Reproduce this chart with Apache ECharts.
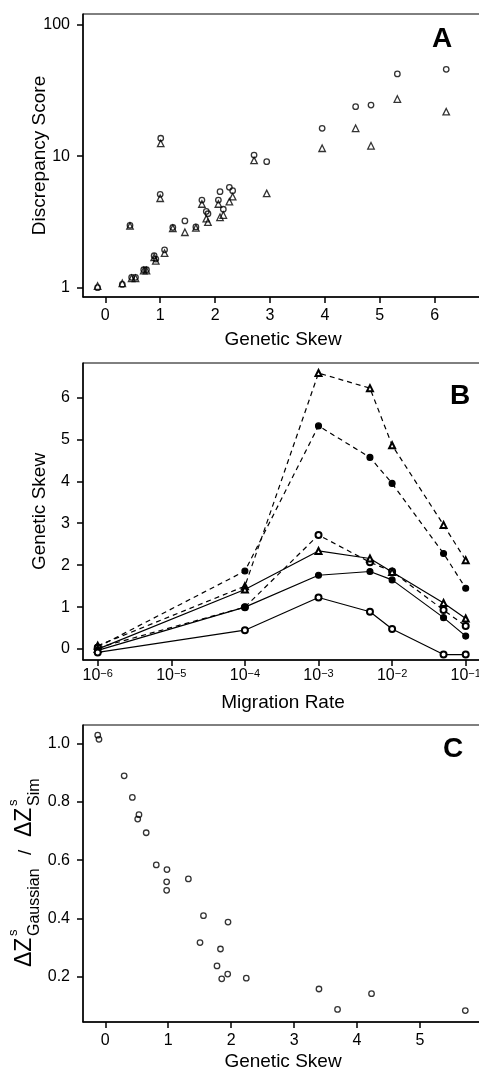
<!DOCTYPE html>
<html>
<head>
<meta charset="utf-8">
<script src="https://cdn.jsdelivr.net/npm/echarts@6/dist/echarts.min.js"></script>
<style>
  html, body { margin: 0; padding: 0; background: #fff; }
  #chart { width: 479px; height: 1070px; }
</style>
</head>
<body>
<div id="chart"></div>
<script>
// panel A: discrepancy score vs genetic skew
const skewA = [-0.14, 0.31, 0.45, 0.48, 0.55, 0.70, 0.75, 0.89, 0.92, 1.00, 1.01, 1.08, 1.23, 1.45, 1.65,
  1.76, 1.84, 1.87, 2.06, 2.09, 2.15, 2.26, 2.32, 2.71, 2.94, 3.95, 4.56, 4.84, 5.32, 6.21];
const circA = [1.0, 1.06, 2.98, 1.2, 1.2, 1.37, 1.37, 1.75, 1.65, 5.13, 13.7, 1.94, 2.87, 3.22, 2.9,
  4.64, 3.8, 3.65, 4.64, 5.37, 3.95, 5.8, 5.47, 10.2, 9.08, 16.3, 23.8, 24.5, 42.2, 45.8];
const triA = [1.03, 1.08, 2.95, 1.18, 1.18, 1.35, 1.35, 1.7, 1.6, 4.79, 12.5, 1.83, 2.83, 2.64, 2.85,
  4.33, 3.35, 3.15, 4.33, 3.43, 3.57, 4.51, 4.92, 9.3, 5.22, 11.5, 16.3, 12.0, 27.2, 21.8];

// panel B: genetic skew vs migration rate
const rates = [1e-6, 1e-4, 1e-3, 5e-3, 1e-2, 5e-2, 1e-1];
const dashTri = [0.08, 1.5, 6.58, 6.22, 4.86, 2.96, 2.12];
const dashDot = [0.05, 1.86, 5.32, 4.57, 3.95, 2.28, 1.45];
const dashOpen = [0.03, 1.0, 2.72, 2.07, 1.85, 0.93, 0.55];
const solidTri = [0.0, 1.42, 2.34, 2.16, 1.84, 1.1, 0.73];
const solidDot = [-0.03, 1.0, 1.76, 1.85, 1.65, 0.75, 0.31];
const solidOpen = [-0.08, 0.45, 1.23, 0.89, 0.48, -0.13, -0.13];

// panel C: ratio vs genetic skew
const skewC = [-0.12, -0.10, 0.30, 0.43, 0.535, 0.515, 0.65, 0.81, 0.98, 0.975, 0.975, 1.32, 1.56, 1.505,
  1.95, 1.83, 1.775, 1.85, 1.945, 2.24, 3.395, 3.69, 4.23, 5.72];
const ratioC = [1.028, 1.014, 0.889, 0.815, 0.756, 0.741, 0.694, 0.584, 0.568, 0.526, 0.497, 0.536, 0.41, 0.318,
  0.388, 0.296, 0.238, 0.194, 0.21, 0.196, 0.159, 0.089, 0.143, 0.085];

const ticksA = [0, 1, 2, 3, 4, 5, 6];
const ticksAy = [1, 10, 100];
const ticksB = [1e-6, 1e-5, 1e-4, 1e-3, 1e-2, 1e-1];
const ticksBy = [0, 1, 2, 3, 4, 5, 6];
const ticksC = [0, 1, 2, 3, 4, 5];
const ticksCy = [0.2, 0.4, 0.6, 0.8, 1.0];

const chart = echarts.init(document.getElementById('chart'));

function xAx(idx, min, max, ticks, name, gap, extra) {
  return Object.assign({
    gridIndex: idx, type: 'value', min: min, max: max,
    name: name, nameLocation: 'middle', nameGap: gap, nameMoveOverlap: false,
    nameTextStyle: { fontSize: 19, color: '#000' },
    axisLine: { onZero: false, lineStyle: { color: '#000', width: 1.5 } },
    axisTick: { length: 6, customValues: ticks, lineStyle: { color: '#000', width: 1.5 } },
    axisLabel: { customValues: ticks, fontSize: 16, color: '#000', margin: 11 },
    splitLine: { show: false }
  }, extra || {});
}
function yAx(idx, min, max, ticks, name, gap, extra) {
  return Object.assign({
    gridIndex: idx, type: 'value', min: min, max: max,
    name: name, nameLocation: 'middle', nameGap: gap, nameMoveOverlap: false,
    nameTextStyle: { fontSize: 19, color: '#000' },
    axisLine: { onZero: false, lineStyle: { color: '#000', width: 1.5 } },
    axisTick: { length: 6, customValues: ticks, lineStyle: { color: '#000', width: 1.5 } },
    axisLabel: { customValues: ticks, fontSize: 16, color: '#000', margin: 13 },
    splitLine: { show: false }
  }, extra || {});
}

const openStyle = { color: 'rgba(0,0,0,0)', borderColor: '#000', borderWidth: 1.3 };

function lineSeries(vals, symbol, dashed) {
  return {
    type: 'line', xAxisIndex: 1, yAxisIndex: 1,
    data: rates.map((r, i) => [r, vals[i]]),
    symbol: symbol, symbolSize: 6,
    lineStyle: { color: '#000', width: 1.2, type: dashed ? [5, 4] : 'solid' },
    itemStyle: { color: '#000', borderColor: '#000', borderWidth: 1.1 },
    z: 3
  };
}

const gridBase = { left: 83, width: 400, show: true, borderColor: '#000', borderWidth: 1, outerBoundsMode: 'none', containLabel: false };

const option = {
  animation: false,
  backgroundColor: '#fff',
  textStyle: { fontFamily: 'Liberation Sans' },
  grid: [
    Object.assign({ top: 14, height: 283 }, gridBase),
    Object.assign({ top: 363, height: 297 }, gridBase),
    Object.assign({ top: 725, height: 297 }, gridBase)
  ],
  xAxis: [
    xAx(0, -0.406, 6.88, ticksA, 'Genetic Skew', 33),
    xAx(1, 6.31e-7, 0.1718, ticksB, 'Migration Rate', 33, {
      type: 'log', logBase: 10,
      axisLabel: {
        customValues: ticksB, color: '#000', margin: 8,
        formatter: function (v) {
          return '{b|10}{s|\u2212' + Math.round(-Math.log10(v)) + '}';
        },
        rich: {
          b: { fontSize: 16, verticalAlign: 'bottom', lineHeight: 16 },
          s: { fontSize: 11, verticalAlign: 'top', lineHeight: 11, padding: [0, 0, 8, 0] }
        }
      }
    }),
    xAx(2, -0.354, 6.001, ticksC, 'Genetic Skew', 30)
  ],
  yAxis: [
    yAx(0, 0.85, 120.6, ticksAy, 'Discrepancy Score', 34, {
      type: 'log', logBase: 10,
      axisLabel: { customValues: ticksAy, fontSize: 16, color: '#000', margin: 13,
        formatter: v => String(Math.round(v)) }
    }),
    yAx(1, -0.26, 6.82, ticksBy, 'Genetic Skew', 34),
    yAx(2, 0.046, 1.063, ticksCy, '', 34, {
      axisLabel: { customValues: ticksCy, fontSize: 16, color: '#000', margin: 13,
        formatter: v => v.toFixed(1) }
    })
  ],
  series: [
    {
      type: 'scatter', xAxisIndex: 0, yAxisIndex: 0, symbol: 'circle', symbolSize: 5.5,
      data: skewA.map((x, i) => [x, circA[i]]), itemStyle: openStyle
    },
    {
      type: 'scatter', xAxisIndex: 0, yAxisIndex: 0, symbol: 'triangle', symbolSize: 6.5,
      data: skewA.map((x, i) => [x, triA[i]]), itemStyle: openStyle
    },
    lineSeries(dashTri, 'emptyTriangle', true),
    lineSeries(dashDot, 'circle', true),
    lineSeries(dashOpen, 'emptyCircle', true),
    lineSeries(solidTri, 'emptyTriangle', false),
    lineSeries(solidDot, 'circle', false),
    lineSeries(solidOpen, 'emptyCircle', false),
    {
      type: 'scatter', xAxisIndex: 2, yAxisIndex: 2, symbol: 'circle', symbolSize: 5.5,
      data: skewC.map((x, i) => [x, ratioC[i]]), itemStyle: openStyle
    }
  ],
  graphic: [
    { type: 'text', x: 442, y: 39, style: { text: 'A', font: 'bold 28px Liberation Sans', fill: '#000', textAlign: 'center', textVerticalAlign: 'middle' } },
    { type: 'text', x: 460, y: 396, style: { text: 'B', font: 'bold 28px Liberation Sans', fill: '#000', textAlign: 'center', textVerticalAlign: 'middle' } },
    { type: 'text', x: 453, y: 749, style: { text: 'C', font: 'bold 28px Liberation Sans', fill: '#000', textAlign: 'center', textVerticalAlign: 'middle' } },
    {
      type: 'group', x: 33, y: 967, rotation: Math.PI / 2,
      children: [
        { type: 'text', x: 0, y: -8, style: { text: '\u0394Z', font: '23px Liberation Sans', fill: '#000', textAlign: 'left', textVerticalAlign: 'middle' } },
        { type: 'text', x: 31, y: -20, style: { text: 's', font: '13px Liberation Sans', fill: '#000', textAlign: 'left', textVerticalAlign: 'middle' } },
        { type: 'text', x: 31, y: 2, style: { text: 'Gaussian', font: '16px Liberation Sans', fill: '#000', textAlign: 'left', textVerticalAlign: 'middle' } },
        { type: 'text', x: 112, y: -7, style: { text: '/', font: '19px Liberation Sans', fill: '#000', textAlign: 'left', textVerticalAlign: 'middle' } },
        { type: 'text', x: 130, y: -8, style: { text: '\u0394Z', font: '23px Liberation Sans', fill: '#000', textAlign: 'left', textVerticalAlign: 'middle' } },
        { type: 'text', x: 161, y: -20, style: { text: 's', font: '13px Liberation Sans', fill: '#000', textAlign: 'left', textVerticalAlign: 'middle' } },
        { type: 'text', x: 161, y: 2, style: { text: 'Sim', font: '16px Liberation Sans', fill: '#000', textAlign: 'left', textVerticalAlign: 'middle' } }
      ]
    }
  ]
};
chart.setOption(option);
window.addEventListener('resize', function () { chart.resize(); });
</script>
</body>
</html>
